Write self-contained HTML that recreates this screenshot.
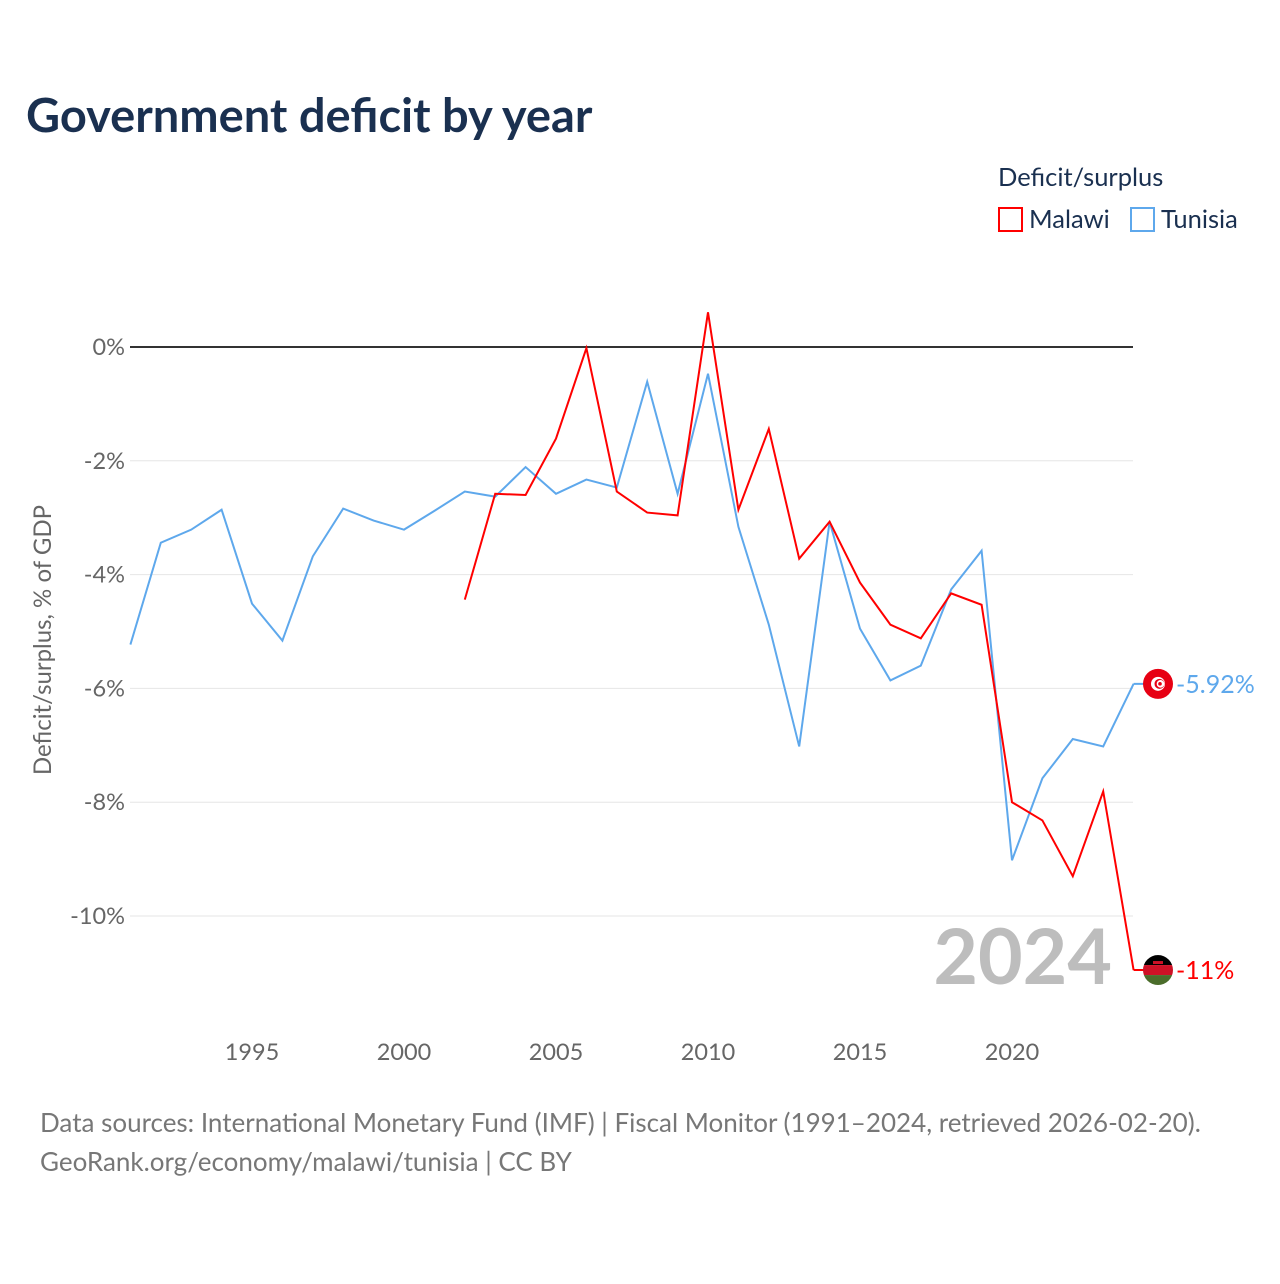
<!DOCTYPE html>
<html><head><meta charset="utf-8"><style>
body{margin:0;background:#fff;font-family:"Lato","Liberation Sans",sans-serif}
svg text{font-family:"Lato","Liberation Sans",sans-serif}
</style></head><body>
<svg id="chart" width="1280" height="1280" xmlns="http://www.w3.org/2000/svg">
<defs><clipPath id="mc"><circle id="mcc" cx="1158" cy="971" r="15"/></clipPath></defs>
<rect width="1280" height="1280" fill="#fff"/>
<text x="26" y="132" font-size="47" font-weight="bold" fill="#1a3050">Government deficit by year</text>
<text x="998" y="186" font-size="25.5" fill="#1a3050">Deficit/surplus</text>
<g><rect x="999" y="208" width="23" height="23" fill="none" stroke="#ff0000" stroke-width="2"/><text x="1029" y="228" font-size="25.5" fill="#1a3050">Malawi</text></g>
<g><rect x="1131" y="208" width="23" height="23" fill="none" stroke="#5ea8ec" stroke-width="2"/><text x="1161" y="228" font-size="25.5" fill="#1a3050">Tunisia</text></g>
<g id="grid"></g><g id="xt"></g><g id="lines"></g>
<text x="1112" y="984" font-size="77" font-weight="bold" fill="#bdbdbd" text-anchor="end">2024</text>
<text transform="translate(51,640) rotate(-90)" font-size="24" fill="#666" text-anchor="middle">Deficit/surplus, % of GDP</text>
<text x="40" y="1132" font-size="26" fill="#777">Data sources: International Monetary Fund (IMF) | Fiscal Monitor (1991–2024, retrieved 2026-02-20).</text>
<text x="40" y="1171" font-size="26" fill="#777">GeoRank.org/economy/malawi/tunisia | CC BY</text>
</svg>
<script>
const yTicks=[0,-2,-4,-6,-8,-10];
const xTicks=[1995,2000,2005,2010,2015,2020];
const tunisiaYears=[1991,1992,1993,1994,1995,1996,1997,1998,1999,2000,2001,2002,2003,2004,2005,2006,2007,2008,2009,2010,2011,2012,2013,2014,2015,2016,2017,2018,2019,2020,2021,2022,2023,2024];
const tunisiaVals=[-5.23,-3.44,-3.21,-2.86,-4.51,-5.16,-3.68,-2.84,-3.05,-3.21,-2.88,-2.54,-2.63,-2.11,-2.58,-2.33,-2.47,-0.61,-2.58,-0.47,-3.16,-4.88,-7.02,-3.07,-4.95,-5.86,-5.60,-4.26,-3.58,-9.02,-7.58,-6.89,-7.02,-5.92];
const malawiYears=[2002,2003,2004,2005,2006,2007,2008,2009,2010,2011,2012,2013,2014,2015,2016,2017,2018,2019,2020,2021,2022,2023,2024];
const malawiVals=[-4.44,-2.58,-2.60,-1.61,-0.02,-2.54,-2.91,-2.96,0.61,-2.86,-1.44,-3.72,-3.07,-4.14,-4.88,-5.12,-4.33,-4.53,-8.00,-8.32,-9.30,-7.81,-10.95];
const X=y=>130.4+(y-1991)*30.4;
const Y=v=>347-v*56.9;
const NS="http://www.w3.org/2000/svg";
function mk(t,a,p){const e=document.createElementNS(NS,t);for(const k in a)e.setAttribute(k,a[k]);p.appendChild(e);return e;}
const grid=document.getElementById('grid');
yTicks.forEach(v=>{
 const l=mk('line',{x1:130,x2:1133,y1:Y(v),y2:Y(v),stroke:v===0?'#333':'#e6e6e6','stroke-width':v===0?2:1},grid);
 
 
 const t=mk('text',{x:125,y:Y(v)+8,'font-size':23.5,fill:'#666','text-anchor':'end'},grid);
 t.textContent=v+'%';
 
 
});
const xt=document.getElementById('xt');
xTicks.forEach(y=>{
 const t=mk('text',{x:X(y),y:1060,'font-size':23.5,fill:'#666','text-anchor':'middle'},xt);
 t.textContent=y;
 
 
});
const lines=document.getElementById('lines');
function series(ys,vs,c,name){
 const p=mk('polyline',{points:ys.map((y,i)=>X(y)+','+Y(vs[i])).join(' '),fill:'none',stroke:c,'stroke-width':2,'stroke-linejoin':'miter'},lines);
 
 
 const last=vs[vs.length-1],ly=Y(last),lx=X(ys[ys.length-1]);
 mk('line',{x1:lx,x2:1158,y1:ly,y2:ly,stroke:c,'stroke-width':2},lines);
 return ly;
}
const ty=series(tunisiaYears,tunisiaVals,'#5ea8ec','tunisia');
const my=series(malawiYears,malawiVals,'#ff0000','malawi');
let g=mk('g',{},lines);


mk('circle',{cx:1158,cy:ty,r:15,fill:'#e70013'},g);
mk('circle',{cx:1158,cy:ty,r:7,fill:'#fff'},g);
mk('circle',{cx:1159.5,cy:ty,r:5,fill:'#e70013'},g);
mk('circle',{cx:1160.5,cy:ty,r:3.8,fill:'#fff'},g);
mk('circle',{cx:1160,cy:ty,r:1.8,fill:'#e70013'},g);
let t=mk('text',{x:1176,y:ty+9,'font-size':25,fill:'#5ea8ec'},lines);
t.textContent=tunisiaVals[tunisiaVals.length-1].toFixed(2)+'%';


document.getElementById('mcc').setAttribute('cy',my);
g=mk('g',{'clip-path':'url(#mc)'},lines);


mk('rect',{x:1143,y:my-15,width:30,height:10,fill:'#000'},g);
mk('rect',{x:1143,y:my-5,width:30,height:10,fill:'#ce1126'},g);
mk('rect',{x:1143,y:my+5,width:30,height:10,fill:'#4b6d2b'},g);
mk('rect',{x:1153,y:my-9,width:10,height:3,fill:'#ce1126'},g);
t=mk('text',{x:1176,y:my+9,'font-size':25,fill:'#ff0000'},lines);
t.textContent=Math.round(malawiVals[malawiVals.length-1])+'%';


</script>
</body></html>
